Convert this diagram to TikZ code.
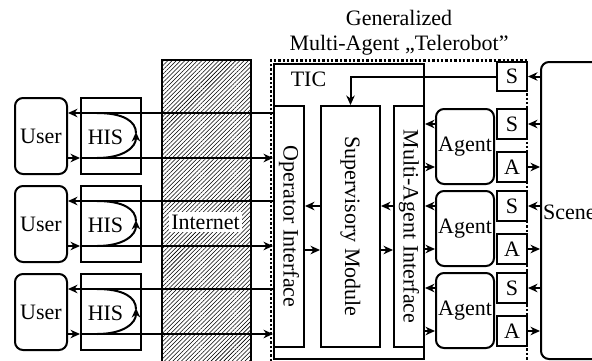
\documentclass[tikz,border=0pt]{standalone}
\usepackage{fontspec}
\setmainfont{Liberation Serif}
\usetikzlibrary{arrows.meta,patterns.meta}
\newcommand\lbl{\fontsize{22}{25}\selectfont}
\tikzset{
  ln/.style={line width=2pt},
  sbox/.style={draw, ln, inner sep=0pt, font=\lbl},
  rbox/.style={sbox, rounded corners=8pt},
  arr/.style={ln, -{Stealth[length=9.5pt,width=8.5pt,inset=3pt]}},
  dotline/.style={line width=2.6pt, dash pattern=on 2.4pt off 2pt},
}
\begin{document}
\begin{tikzpicture}[x=1pt,y=-1pt]
\useasboundingbox (0,0) rectangle (592,360);
\clip (0,0) rectangle (592,360);

% title
\node[font=\lbl, align=center] (title) at (399,32.5) {Generalized\\Multi-Agent „Telerobot”};

% Internet column
\path[pattern={Lines[angle=45,distance=3pt,line width=0.55pt]}] (162,60) rectangle (251,370);
\draw[ln] (162,370) -- (162,60) -- (251,60) -- (251,370);
\node[fill=white, inner sep=2.5pt, font=\lbl] (inet) at (205.5,222) {Internet};

% generalized telerobot boundary
\draw[dotline] (270.8,370) -- (270.8,60.5) -- (527,60.5) -- (527,370);

% TIC with its three modules
\node[sbox, minimum width=150pt, minimum height=295pt, anchor=north west] (tic) at (273,63) {};
\node[font=\lbl] (ticl) at (308.5,79) {TIC};
\node[sbox, minimum width=30pt, minimum height=241pt, anchor=north west] (oi) at (273,105) {};
\node[sbox, minimum width=59pt, minimum height=241pt, anchor=north west] (sup) at (320,105) {};
\node[sbox, minimum width=30pt, minimum height=241pt, anchor=north west] (mai) at (393,105) {};
\node[font=\lbl, rotate=-90] (oit) at (oi.center) {Operator Interface};
\node[font=\lbl, rotate=-90] (supt) at (sup.center) {Supervisory Module};
\node[font=\lbl, rotate=-90] (mait) at (mai.center) {Multi-Agent Interface};

% scene and global sensor
\node[rbox, minimum width=110pt, minimum height=297pt, anchor=north west] (scene) at (540,61) {};
\node[font=\lbl, anchor=west, inner sep=0pt] (scenet) at (543,212) {Scene};
\node[sbox, minimum width=30pt, minimum height=29pt, anchor=north west] (s0) at (496,61) {S};

% module links
\coordinate (lvA) at (0,206);
\coordinate (lvB) at (0,250);
\draw[arr] (sup.west |- lvA) -- (oi.east |- lvA);
\draw[arr] (oi.east |- lvB) -- (sup.west |- lvB);
\draw[arr] (mai.west |- lvA) -- (sup.east |- lvA);
\draw[arr] (sup.east |- lvB) -- (mai.west |- lvB);
\draw[arr] (s0.west) -| (sup.north);
\draw[arr] (scene.west |- s0) -- (s0.east);

% users and human interface systems
\foreach \i/\t in {1/97,2/185,3/273} {
  \node[rbox, minimum width=52pt, minimum height=76pt, anchor=north west] (u\i) at (14,\t) {User};
  \node[sbox, minimum width=60pt, minimum height=76pt, anchor=north west] (h\i) at (80,\t) {};
  \node[font=\lbl] (ht\i) at ([xshift=-5.5pt,yshift=-1.5pt]h\i.center) {HIS};
  \coordinate (p\i) at (0,\t+16);
  \coordinate (q\i) at (0,\t+61);
  \draw[arr] (tic.west |- p\i) -- (u\i.east |- p\i);
  \draw[arr] (u\i.east |- q\i) -- (h\i.west |- q\i);
  \draw[arr] (h\i.west |- q\i) -- (tic.west |- q\i);
  \draw[arr] (97,\t+61) .. controls (124,\t+61) and (136,\t+50) .. (136,\t+35);
  \draw[ln] (136,\t+36) .. controls (136,\t+24) and (123,\t+16) .. (97,\t+16);
}

% agents with their sensors and actuators
\foreach \i/\t in {1/108,2/190,3/272} {
  \node[rbox, minimum width=58pt, minimum height=75pt, anchor=north west] (ag\i) at (435,\t) {Agent};
  \node[sbox, minimum width=30pt, minimum height=30pt, anchor=north west] (s\i) at (496,\t) {S};
  \node[sbox, minimum width=30pt, minimum height=30pt, anchor=south west] (a\i) at (496,\t+75) {A};
  \draw[arr] (ag\i.west |- s\i) -- (mai.east |- s\i);
  \draw[arr] (mai.east |- a\i) -- (ag\i.west |- a\i);
  \draw[arr] (scene.west |- s\i) -- (s\i.east);
  \draw[arr] (a\i.east) -- (scene.west |- a\i);
}
\end{tikzpicture}
\end{document}
